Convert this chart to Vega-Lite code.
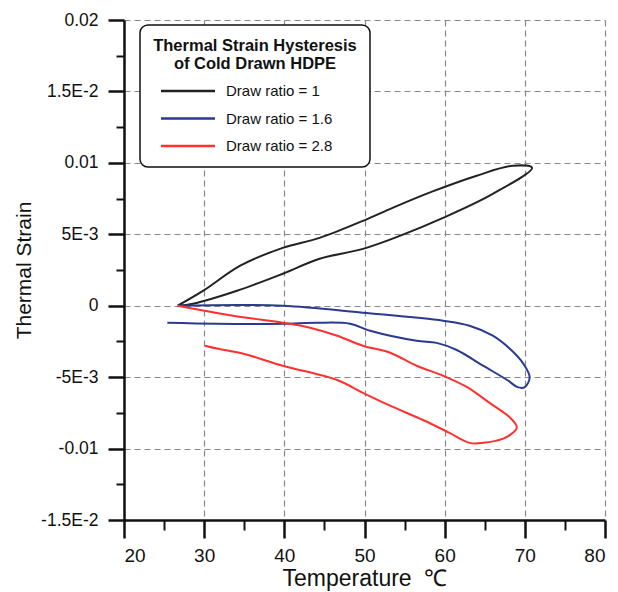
{
  "$schema": "https://vega.github.io/schema/vega-lite/v6.json",
  "width": 481,
  "height": 500,
  "autosize": {"type": "none"},
  "padding": {"left": 124, "top": 20, "right": 13, "bottom": 72},
  "background": "white",
  "config": {
    "view": {"stroke": null},
    "font": "Liberation Sans",
    "axis": {"labelFont": "Liberation Sans", "titleFont": "Liberation Sans", "labelColor": "#111", "titleColor": "#111", "titleFontWeight": "normal"},
    "legend": {"strokeWidth": 1.5}
  },
  "data": {
    "values": [
      {"s": "Draw ratio = 1", "i": 0, "t": 26.7, "e": 0.0},
      {"s": "Draw ratio = 1", "i": 1, "t": 28.6, "e": 0.00014},
      {"s": "Draw ratio = 1", "i": 2, "t": 34.1, "e": 0.00105},
      {"s": "Draw ratio = 1", "i": 3, "t": 39.8, "e": 0.00224},
      {"s": "Draw ratio = 1", "i": 4, "t": 44.4, "e": 0.00329},
      {"s": "Draw ratio = 1", "i": 5, "t": 49.8, "e": 0.00398},
      {"s": "Draw ratio = 1", "i": 6, "t": 54.4, "e": 0.00489},
      {"s": "Draw ratio = 1", "i": 7, "t": 59.8, "e": 0.00615},
      {"s": "Draw ratio = 1", "i": 8, "t": 66.0, "e": 0.00783},
      {"s": "Draw ratio = 1", "i": 9, "t": 70.9, "e": 0.00965},
      {"s": "Draw ratio = 1", "i": 10, "t": 68.5, "e": 0.0098},
      {"s": "Draw ratio = 1", "i": 11, "t": 64.0, "e": 0.0091},
      {"s": "Draw ratio = 1", "i": 12, "t": 58.5, "e": 0.0080},
      {"s": "Draw ratio = 1", "i": 13, "t": 53.5, "e": 0.00685},
      {"s": "Draw ratio = 1", "i": 14, "t": 49.8, "e": 0.00594},
      {"s": "Draw ratio = 1", "i": 15, "t": 44.4, "e": 0.00475},
      {"s": "Draw ratio = 1", "i": 16, "t": 39.8, "e": 0.00405},
      {"s": "Draw ratio = 1", "i": 17, "t": 34.5, "e": 0.0028},
      {"s": "Draw ratio = 1", "i": 18, "t": 29.9, "e": 0.00105},
      {"s": "Draw ratio = 1", "i": 19, "t": 26.7, "e": 0.0},

      {"s": "Draw ratio = 1.6", "i": 0, "t": 26.7, "e": 0.0},
      {"s": "Draw ratio = 1.6", "i": 1, "t": 39.8, "e": 0.0},
      {"s": "Draw ratio = 1.6", "i": 2, "t": 49.8, "e": -0.00049},
      {"s": "Draw ratio = 1.6", "i": 3, "t": 59.8, "e": -0.00105},
      {"s": "Draw ratio = 1.6", "i": 4, "t": 63.1, "e": -0.0014},
      {"s": "Draw ratio = 1.6", "i": 5, "t": 66.0, "e": -0.0021},
      {"s": "Draw ratio = 1.6", "i": 6, "t": 68.1, "e": -0.0030},
      {"s": "Draw ratio = 1.6", "i": 7, "t": 69.8, "e": -0.00405},
      {"s": "Draw ratio = 1.6", "i": 8, "t": 70.6, "e": -0.0050},
      {"s": "Draw ratio = 1.6", "i": 9, "t": 70.0, "e": -0.0057},
      {"s": "Draw ratio = 1.6", "i": 10, "t": 69.1, "e": -0.0057},
      {"s": "Draw ratio = 1.6", "i": 11, "t": 67.8, "e": -0.0052},
      {"s": "Draw ratio = 1.6", "i": 12, "t": 64.8, "e": -0.0042},
      {"s": "Draw ratio = 1.6", "i": 13, "t": 61.5, "e": -0.0031},
      {"s": "Draw ratio = 1.6", "i": 14, "t": 59.0, "e": -0.0026},
      {"s": "Draw ratio = 1.6", "i": 15, "t": 56.5, "e": -0.00245},
      {"s": "Draw ratio = 1.6", "i": 16, "t": 50.7, "e": -0.00175},
      {"s": "Draw ratio = 1.6", "i": 17, "t": 48.2, "e": -0.00126},
      {"s": "Draw ratio = 1.6", "i": 18, "t": 44.1, "e": -0.00119},
      {"s": "Draw ratio = 1.6", "i": 19, "t": 39.8, "e": -0.00126},
      {"s": "Draw ratio = 1.6", "i": 20, "t": 31.6, "e": -0.00126},
      {"s": "Draw ratio = 1.6", "i": 21, "t": 25.4, "e": -0.00119},

      {"s": "Draw ratio = 2.8", "i": 0, "t": 26.7, "e": 0.0},
      {"s": "Draw ratio = 2.8", "i": 1, "t": 33.6, "e": -0.0007},
      {"s": "Draw ratio = 2.8", "i": 2, "t": 39.8, "e": -0.00119},
      {"s": "Draw ratio = 2.8", "i": 3, "t": 43.2, "e": -0.00154},
      {"s": "Draw ratio = 2.8", "i": 4, "t": 46.6, "e": -0.0021},
      {"s": "Draw ratio = 2.8", "i": 5, "t": 49.8, "e": -0.0028},
      {"s": "Draw ratio = 2.8", "i": 6, "t": 53.2, "e": -0.00329},
      {"s": "Draw ratio = 2.8", "i": 7, "t": 56.5, "e": -0.0042},
      {"s": "Draw ratio = 2.8", "i": 8, "t": 59.8, "e": -0.0049},
      {"s": "Draw ratio = 2.8", "i": 9, "t": 62.8, "e": -0.0057},
      {"s": "Draw ratio = 2.8", "i": 10, "t": 65.6, "e": -0.0068},
      {"s": "Draw ratio = 2.8", "i": 11, "t": 68.1, "e": -0.0078},
      {"s": "Draw ratio = 2.8", "i": 12, "t": 69.0, "e": -0.0085},
      {"s": "Draw ratio = 2.8", "i": 13, "t": 68.5, "e": -0.0089},
      {"s": "Draw ratio = 2.8", "i": 14, "t": 67.3, "e": -0.0093},
      {"s": "Draw ratio = 2.8", "i": 15, "t": 64.8, "e": -0.0096},
      {"s": "Draw ratio = 2.8", "i": 16, "t": 63.1, "e": -0.0096},
      {"s": "Draw ratio = 2.8", "i": 17, "t": 60.6, "e": -0.0089},
      {"s": "Draw ratio = 2.8", "i": 18, "t": 57.3, "e": -0.0080},
      {"s": "Draw ratio = 2.8", "i": 19, "t": 53.2, "e": -0.0070},
      {"s": "Draw ratio = 2.8", "i": 20, "t": 49.8, "e": -0.0061},
      {"s": "Draw ratio = 2.8", "i": 21, "t": 46.6, "e": -0.0052},
      {"s": "Draw ratio = 2.8", "i": 22, "t": 39.8, "e": -0.0042},
      {"s": "Draw ratio = 2.8", "i": 23, "t": 34.8, "e": -0.00335},
      {"s": "Draw ratio = 2.8", "i": 24, "t": 31.6, "e": -0.0030},
      {"s": "Draw ratio = 2.8", "i": 25, "t": 30.1, "e": -0.0028}
    ]
  },
  "resolve": {"axis": {"x": "independent", "y": "independent"}},
  "layer": [
    {
      "mark": {"type": "point", "opacity": 0},
      "encoding": {
        "x": {"field": "t", "type": "quantitative", "scale": {"domain": [20, 80], "nice": false, "zero": false},
          "axis": {"orient": "bottom", "values": [25, 35, 45, 55, 65, 75], "labels": false, "grid": false, "domain": false, "tickSize": 10, "tickWidth": 2, "tickColor": "#111", "title": null}},
        "y": {"field": "e", "type": "quantitative", "scale": {"domain": [-0.015, 0.02], "nice": false, "zero": false},
          "axis": {"orient": "left", "values": [0.0175, 0.0125, 0.0075, 0.0025, -0.0025, -0.0075, -0.0125], "labels": false, "grid": false, "domain": false, "tickSize": 8, "tickWidth": 2, "tickColor": "#111", "title": null}}
      }
    },
    {
      "mark": {"type": "line", "strokeWidth": 2, "interpolate": "catmull-rom"},
      "encoding": {
        "x": {"field": "t", "type": "quantitative", "scale": {"domain": [20, 80], "nice": false, "zero": false},
          "axis": {"orient": "bottom", "values": [20, 30, 40, 50, 60, 70, 80], "title": "Temperature\u00a0\u00a0\u2103", "titleFontSize": 23, "titlePadding": 2, "labelFontSize": 19, "labelPadding": 8, "tickSize": 18, "tickWidth": 2.5, "tickColor": "#111", "domainColor": "#111", "domainWidth": 2.5, "grid": true, "gridColor": "#888", "gridDash": [6, 4], "gridWidth": 1.2}},
        "y": {"field": "e", "type": "quantitative", "scale": {"domain": [-0.015, 0.02], "nice": false, "zero": false},
          "axis": {"orient": "left", "values": [0.02, 0.015, 0.01, 0.005, 0, -0.005, -0.01, -0.015], "labelExpr": "datum.value > 0.017 ? '0.02' : datum.value > 0.012 ? '1.5E-2' : datum.value > 0.007 ? '0.01' : datum.value > 0.002 ? '5E-3' : datum.value > -0.002 ? '0' : datum.value > -0.007 ? '-5E-3' : datum.value > -0.012 ? '-0.01' : '-1.5E-2'", "title": "Thermal Strain", "titleFontSize": 21, "titlePadding": 6, "labelFontSize": 17.5, "labelPadding": 10, "tickSize": 16, "tickWidth": 2.5, "tickColor": "#111", "domainColor": "#111", "domainWidth": 2.5, "grid": true, "gridColor": "#888", "gridDash": [6, 4], "gridWidth": 1.2}},
        "order": {"field": "i", "type": "quantitative"},
        "color": {"field": "s", "type": "nominal",
          "scale": {"domain": ["Draw ratio = 1", "Draw ratio = 1.6", "Draw ratio = 2.8"], "range": ["#222222", "#2a3a8f", "#ff3030"]},
          "legend": {
            "title": ["Thermal Strain Hysteresis", "of Cold Drawn HDPE"],
            "orient": "none", "legendX": 16, "legendY": 5,
            "titleFontSize": 16.5, "titleFontWeight": "bold", "titleAlign": "center", "titleAnchor": "middle", "titleLineHeight": 17.5, "titlePadding": 4, "titleLimit": 400, "titleColor": "#111", "titleFont": "Liberation Sans",
            "labelFontSize": 15, "labelColor": "#111", "labelOffset": 23, "labelFont": "Liberation Sans",
            "symbolType": "M-2,0H2", "symbolSize": 729, "symbolStrokeWidth": 2.5, "symbolOffset": -4,
            "rowPadding": 4.5,
            "padding": 13, "strokeColor": "#111", "cornerRadius": 8, "fillColor": "white"
          }}
      }
    }
  ]
}
